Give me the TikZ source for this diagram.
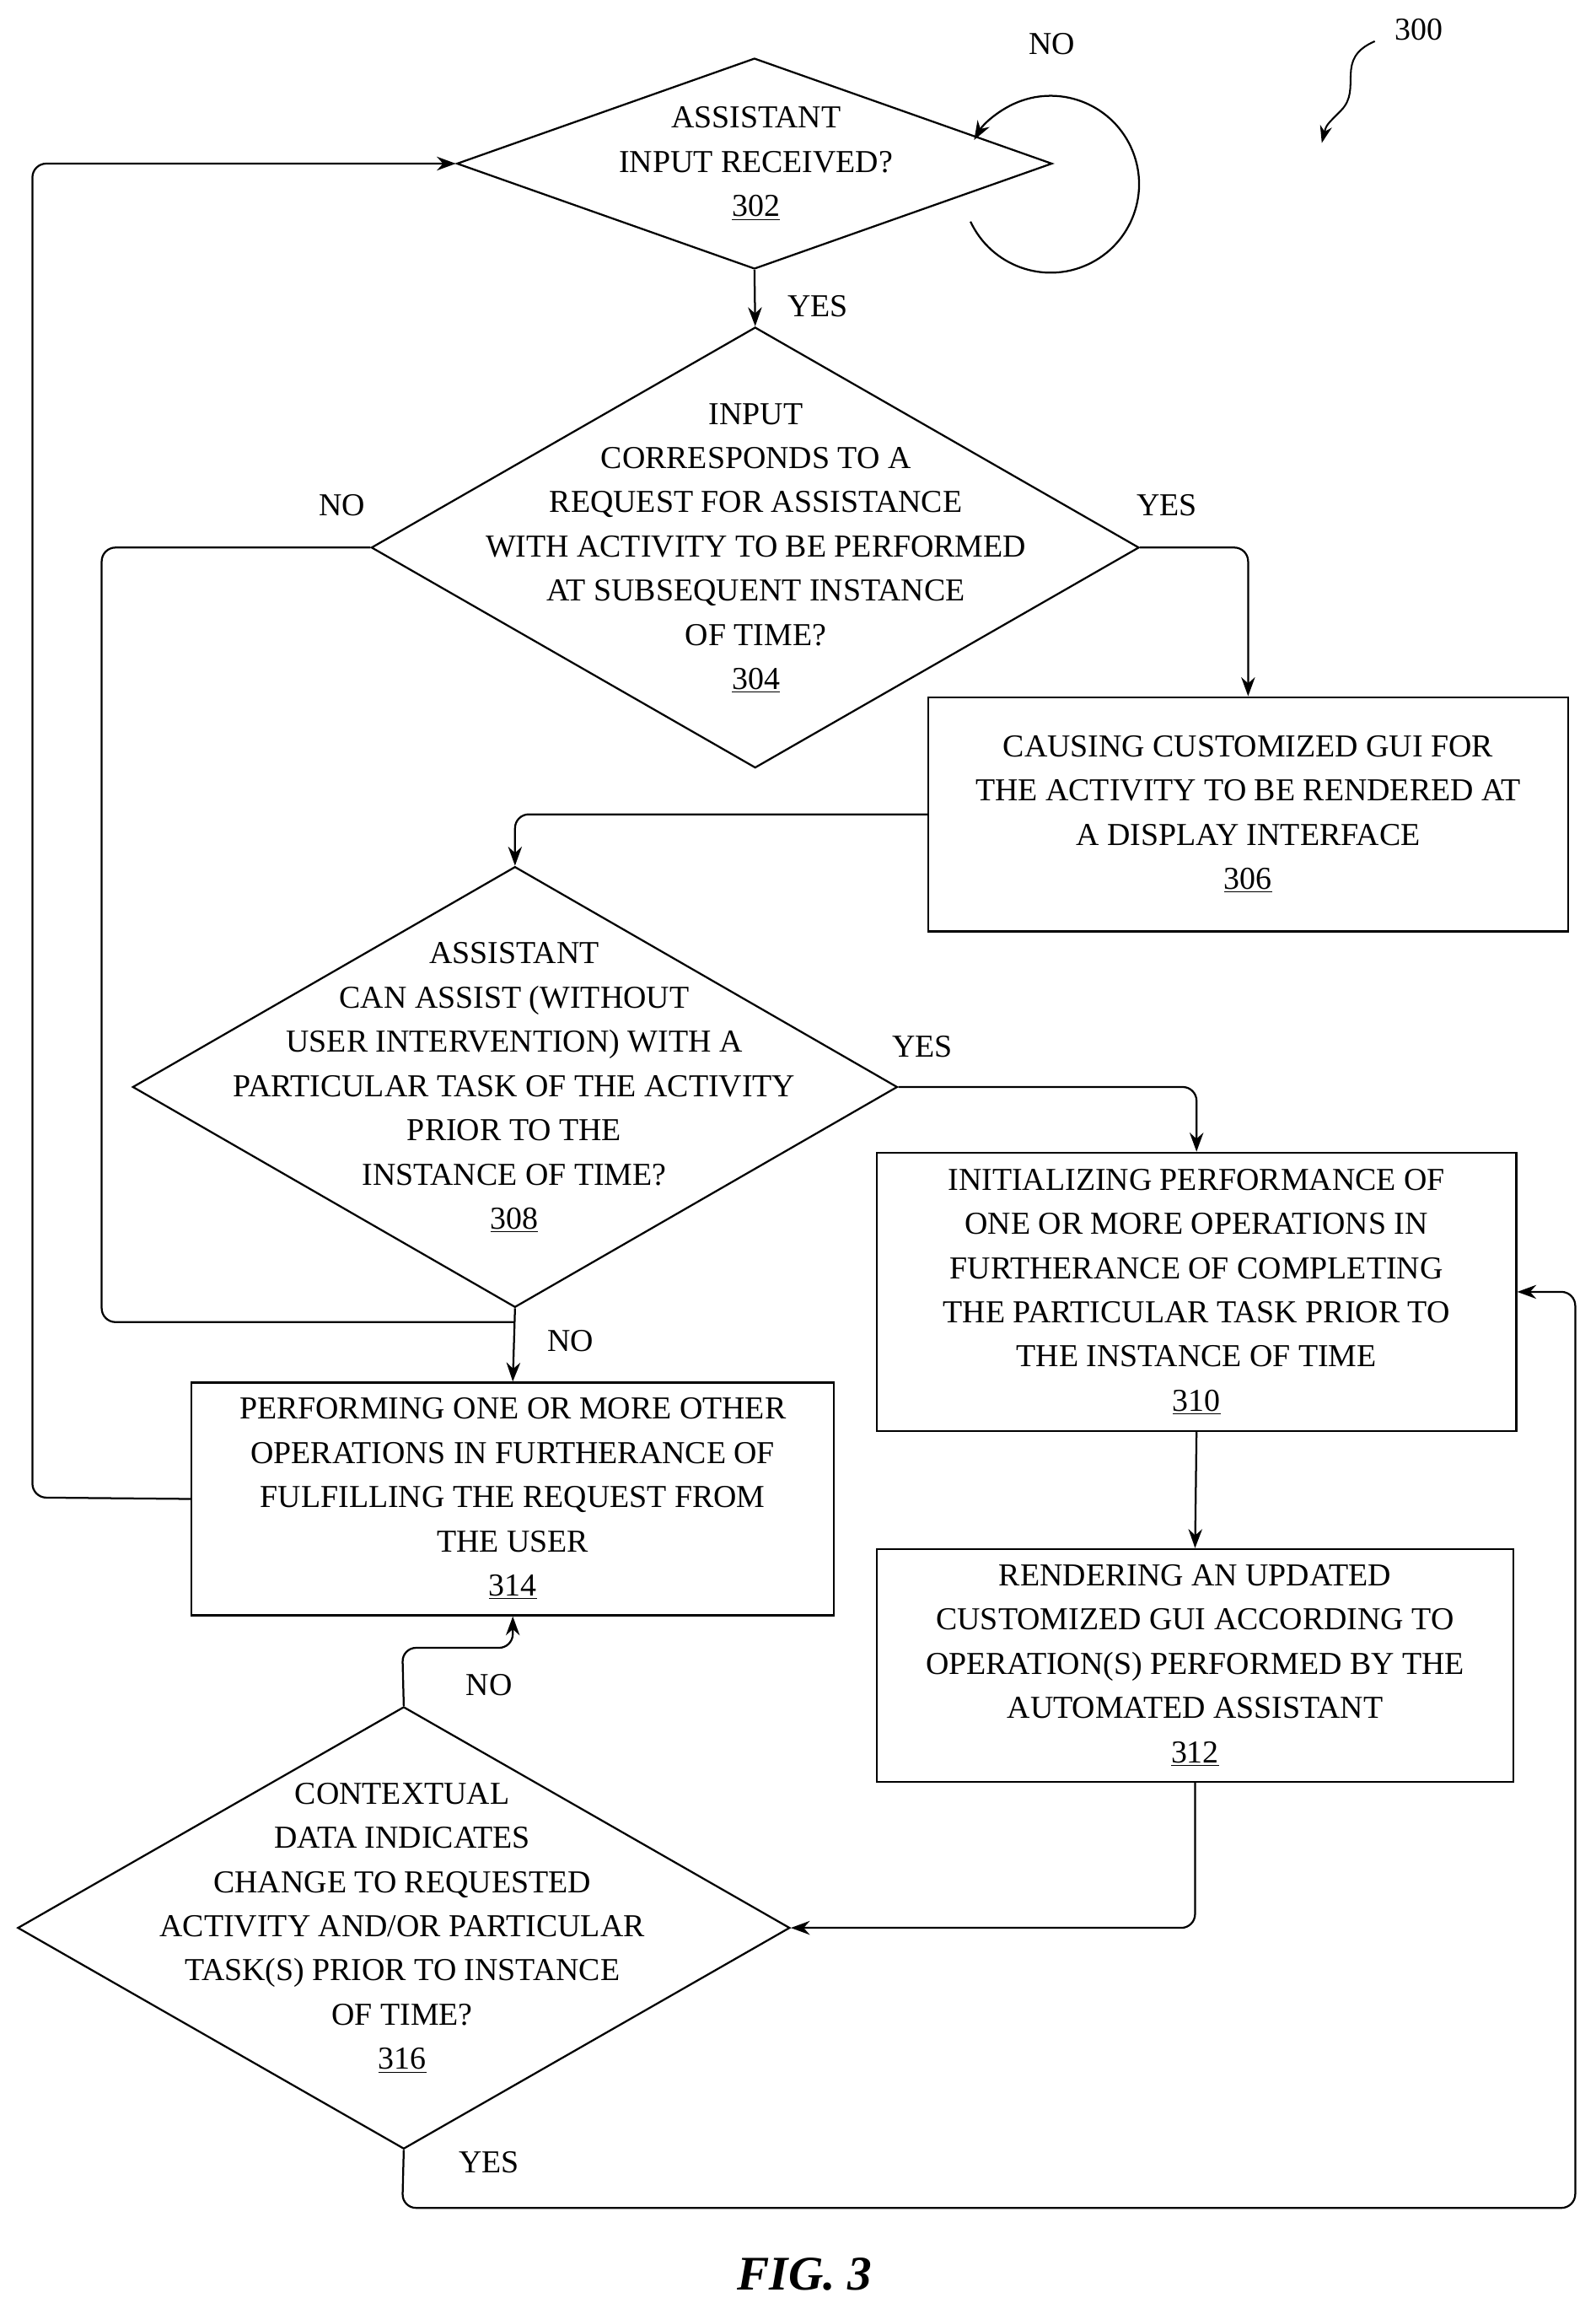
\documentclass[tikz,border=0pt]{standalone}
\usepackage{fontspec}
\setmainfont{Liberation Serif}
\usetikzlibrary{shapes.geometric,arrows.meta,calc}
\begin{document}
\begin{tikzpicture}[x=0.03cm,y=-0.03cm,
  every node/.style={font=\fontsize{18.5}{25.6}\selectfont},
  dia/.style={diamond,draw,line width=1.1pt,inner sep=0pt},
  box/.style={draw,line width=1.1pt,align=center,inner sep=0pt},
  txt/.style={align=center,inner sep=0pt},
  lbl/.style={inner sep=0pt},
  ln/.style={line width=1.1pt,rounded corners=8pt},
  arr/.style={ln,-{Stealth[length=11pt,width=8pt]}}]
\useasboundingbox (0,0) rectangle (1083,1570);
% 302
\node[dia,minimum width=12.12cm,minimum height=4.29cm] (d302) at (512,111) {};
\node[txt] (t302) at (513,111) {ASSISTANT\\INPUT RECEIVED?\\\underline{302}};
\coordinate (lc) at (713,125);
\coordinate (ls) at ($(lc)+(155:60)$);
\draw[arr] (ls) arc[start angle=155,end angle=-150,radius=60];
\node[lbl] (no1) at (714,30) {NO};
% 304
\node[dia,minimum width=15.63cm,minimum height=8.97cm] (d304) at (512.5,371.5) {};
\node[txt] (t304) at (513,372) {INPUT\\CORRESPONDS TO A\\REQUEST FOR ASSISTANCE\\WITH ACTIVITY TO BE PERFORMED\\AT SUBSEQUENT INSTANCE\\OF TIME?\\\underline{304}};
\draw[arr] (d302.south) -- (d304.north);
\node[lbl] (yes1) at (555,208) {YES};
\node[lbl] (no2) at (232,343) {NO};
\node[lbl] (yes2) at (792,343) {YES};
% 306
\node[box,minimum width=13.02cm,minimum height=4.77cm] (b306) at (847,552.5) {CAUSING CUSTOMIZED GUI FOR\\THE ACTIVITY TO BE RENDERED AT\\A DISPLAY INTERFACE\\\underline{306}};
\draw[arr] (d304.east) -| (b306.north);
% 308
\node[dia,minimum width=15.57cm,minimum height=8.97cm] (d308) at (349.5,737.5) {};
\node[txt] (t308) at (349,738) {ASSISTANT\\CAN ASSIST (WITHOUT\\USER INTERVENTION) WITH A\\PARTICULAR TASK OF THE ACTIVITY\\PRIOR TO THE\\INSTANCE OF TIME?\\\underline{308}};
\draw[arr] (b306.west) -| (d308.north);
\node[lbl] (yes3) at (626,710) {YES};
% 310
\node[box,minimum width=13.02cm,minimum height=5.67cm] (b310) at (812,876.5) {INITIALIZING PERFORMANCE OF\\ONE OR MORE OPERATIONS IN\\FURTHERANCE OF COMPLETING\\THE PARTICULAR TASK PRIOR TO\\THE INSTANCE OF TIME\\\underline{310}};
\draw[arr] (d308.east) -| (b310.north);
% 312
\node[box,minimum width=12.96cm,minimum height=4.74cm] (b312) at (811,1130) {RENDERING AN UPDATED\\CUSTOMIZED GUI ACCORDING TO\\OPERATION(S) PERFORMED BY THE\\AUTOMATED ASSISTANT\\\underline{312}};
\draw[arr] (b310.south) -- (b312.north);
% 314
\node[box,minimum width=13.08cm,minimum height=4.74cm] (b314) at (348,1017) {PERFORMING ONE OR MORE OTHER\\OPERATIONS IN FURTHERANCE OF\\FULFILLING THE REQUEST FROM\\THE USER\\\underline{314}};
\draw[arr] (d308.south) -- (b314.north);
\coordinate (j1) at (69,897);
\draw[ln] (d304.west) -| (j1) -- (349,897);
\node[lbl] (no3) at (387,910) {NO};
\coordinate (j2) at (22,1016);
\draw[arr] (b314.west) -- (j2) |- (d302.west);
% 316
\node[dia,minimum width=15.72cm,minimum height=9.0cm] (d316) at (274,1308) {};
\node[txt] (t316) at (273,1308) {CONTEXTUAL\\DATA INDICATES\\CHANGE TO REQUESTED\\ACTIVITY AND/OR PARTICULAR\\TASK(S) PRIOR TO INSTANCE\\OF TIME?\\\underline{316}};
\draw[arr] (b312.south) |- (d316.east);
\coordinate (j3) at (273,1118);
\draw[arr] (d316.north) -- (j3) -| (b314.south);
\node[lbl] (no4) at (332,1143) {NO};
\coordinate (j4) at (273,1498);
\coordinate (j5) at (1069,1498);
\draw[arr] (d316.south) -- (j4) -- (j5) |- (b310.east);
\node[lbl] (yes4) at (332,1467) {YES};
% 300
\node[lbl] (n300) at (963,20) {300};
\coordinate (s1) at (933,28);
\coordinate (s2) at (897,97);
\draw[line width=1pt,-{Stealth[length=10pt,width=7pt]}] (s1) .. controls (905,40) and (925,60) .. (910,75) .. controls (900,85) .. (s2);
\node[lbl,font=\fontsize{28}{30}\selectfont\bfseries\itshape] (fig) at (546,1543) {FIG. 3};
\end{tikzpicture}
\end{document}
